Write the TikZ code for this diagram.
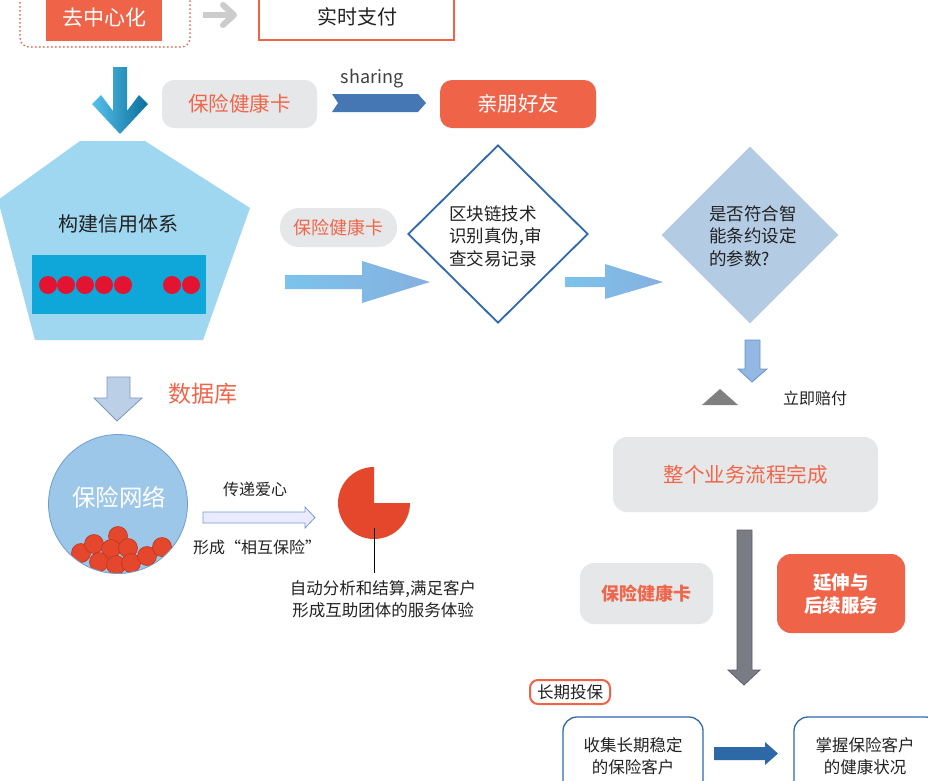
\documentclass[tikz,border=0pt]{standalone}
\usepackage{fontspec}
\setmainfont{Noto Sans CJK SC}
\usetikzlibrary{shapes.geometric}
\definecolor{orgC}{HTML}{EF6348}
\definecolor{orgT}{HTML}{F0664B}
\definecolor{grayB}{HTML}{E6E7E8}
\definecolor{pentC}{HTML}{9ED7EF}
\definecolor{innerC}{HTML}{0FA6DA}
\definecolor{dotR}{HTML}{E31432}
\definecolor{dblue}{HTML}{2F68AC}
\definecolor{dia2C}{HTML}{B4CBE4}
\definecolor{netC}{HTML}{9DC7E8}
\definecolor{netD}{HTML}{6E9ECF}
\definecolor{pieC}{HTML}{E4472B}
\definecolor{ballD}{HTML}{B8371F}
\definecolor{bigG}{HTML}{7A7C85}
\definecolor{bigGD}{HTML}{5E6069}
\definecolor{bblue}{HTML}{2D69A7}
\definecolor{lblue}{HTML}{7BC3EA}
\definecolor{lblueB}{HTML}{86B0E0}
\definecolor{gradL}{HTML}{55C2EA}
\definecolor{gradR}{HTML}{0A6E9C}
\definecolor{txtC}{HTML}{222222}
\newcommand\fsz[2]{\fontsize{#1}{#2}\selectfont}
\tikzset{
  orgbox/.style={fill=orgC, text=white, inner sep=0pt},
  graybox/.style={fill=grayB, text=orgT, rounded corners=12pt, inner sep=0pt},
  txt/.style={inner sep=0pt, text=txtC, align=center},
  wbox/.style={draw=dblue, line width=1.3pt, fill=white, rounded corners=14pt, inner sep=0pt},
  ball/.style={fill=pieC, draw=ballD, line width=0.6pt},
  reddot/.style={fill=dotR},
}
\begin{document}
\begin{tikzpicture}[x=1pt,y=-1pt]
\useasboundingbox (0,0) rectangle (928,780);
\clip (0,0) rectangle (928,780);
\fill[white] (0,0) rectangle (928,780);

% top row
\node[draw=orgC, line width=2pt, dash pattern=on 0pt off 4pt, line cap=round, rounded corners=9pt, minimum width=170pt, minimum height=67pt, inner sep=0pt] (decf) at (105,13.5) {};
\node[orgbox, minimum width=116pt, minimum height=46pt, font=\fsz{21}{25}] (dec) at (104,18) {去中心化};
\draw[color=black!20, line width=6pt] (203,15) -- (232,15);
\draw[color=black!20, line width=6pt, line cap=round, line join=round] (223,5) -- (234,15) -- (223,25);
\node[draw=orgC, line width=1.6pt, fill=white, minimum width=195pt, minimum height=46pt, inner sep=0pt] (pay) at (356.5,17) {};
\node[txt, font=\fsz{20}{24}] (payt) at (357,17) {实时支付};

% blue gradient down arrow
\shade[left color=gradL, right color=gradR] (113,67) -- (127,67) -- (127,111) -- (139,95) -- (148,104) -- (120,134) -- (92,104) -- (101,95) -- (113,111) -- cycle;

\node[graybox, minimum width=155pt, minimum height=48pt, font=\fsz{20.5}{24}] (card1) at (239.5,104) {保险健康卡};
\node[txt, text=black!75, font=\fsz{18}{22}] (shr) at (372,79) {sharing};
\fill[color=dblue!90] (332,94) -- (418,94) -- (426,103) -- (418,112) -- (332,112) -- (338,103) -- cycle;
\node[orgbox, rounded corners=12pt, minimum width=156pt, minimum height=48pt, font=\fsz{20.5}{24}] (friends) at (518,104) {亲朋好友};

% pentagon
\fill[pentC] (-2,200) -- (80,141) -- (145,141) -- (250,208) -- (203,340) -- (35,340) -- cycle;
\node[txt, font=\fsz{20}{24}] (credit) at (118,224) {构建信用体系};
\node[fill=innerC, minimum width=174pt, minimum height=59pt, inner sep=0pt] (bar) at (119,284.5) {};
\foreach \xx in {48,66,85,104,123,172,191} \fill[reddot] (\xx,285) circle (9);

% middle row
\node[graybox, rounded corners=19pt, minimum width=117pt, minimum height=39pt, font=\fsz{18}{22}] (card2) at (338.5,227.5) {保险健康卡};
\shade[left color=lblue, right color=lblueB] (285,275) -- (362,275) -- (362,261) -- (430,282) -- (362,303) -- (362,289) -- (285,289) -- cycle;
\node[diamond, draw=dblue, line width=1.8pt, fill=white, minimum width=180pt, minimum height=178pt, inner sep=0pt] (d1) at (498,234) {};
\node[txt, anchor=west, align=left, font=\fsz{17.5}{22.5}] (d1t) at (449,236) {区块链技术\\识别真伪,审\\查交易记录};
\shade[left color=lblue, right color=lblueB] (565,277) -- (605,277) -- (605,264) -- (663,282) -- (605,299) -- (605,287) -- (565,287) -- cycle;
\node[diamond, fill=dia2C, minimum width=177pt, minimum height=177pt, inner sep=0pt] (d2) at (750,235) {};
\node[txt, anchor=west, align=left, font=\fsz{17.5}{22.5}] (d2t) at (709,236) {是否符合智\\能条约设定\\的参数?};
\filldraw[fill=lblueB!90!white, draw=dblue!70, line width=0.8pt] (745,340) -- (760,340) -- (760,369) -- (767,369) -- (752,382) -- (738,369) -- (745,369) -- cycle;
\fill[black!50] (702,405) -- (738,405) -- (720,389) -- cycle;
\node[txt, font=\fsz{16}{20}] (pay2) at (815,398) {立即赔付};

% database
\filldraw[fill=dia2C!90!white, draw=lblueB!80!black!90, line width=0.8pt] (107,377) -- (130,377) -- (130,398) -- (142,398) -- (117,421) -- (94,398) -- (107,398) -- cycle;
\node[txt, text=orgT, font=\fsz{23}{27}] (db) at (203,394) {数据库};

% network circle
\node[circle, fill=netC, draw=netD, line width=0.8pt, minimum size=139pt, inner sep=0pt] (net) at (118,504) {};
\node[txt, text=white, font=\fsz{23.5}{28}] (nett) at (119,497) {保险网络};
\begin{scope}
\clip (118,504) circle (69);
\foreach \p in {(81,553),(94,544),(118,536),(111,549),(128,548),(99,562),(116,565),(131,563),(147,556),(162,547)}
  \filldraw[ball] \p circle (9.5);
\end{scope}

\filldraw[fill=blue!8!white, draw=lblueB!90!black, line width=0.8pt] (203,512) -- (305,512) -- (305,507) -- (315,517.5) -- (305,528) -- (305,523) -- (203,523) -- cycle;
\node[txt, font=\fsz{16}{20}] (love) at (255,489) {传递爱心};
\node[txt, font=\fsz{16}{20}] (mutual) at (257,547) {形成“相互保险”};

% pie
\coordinate (pc) at (374,503);
\fill[pieC] (pc) -- ++(0,-36) arc[start angle=-90, end angle=-360, radius=36] -- cycle;
\node[txt, font=\fsz{16.5}{22}] (piet) at (383,599) {自动分析和结算,满足客户\\形成互助团体的服务体验};
\draw[black, line width=1pt] (374,528) -- (374,573);

% right column
\node[graybox, rounded corners=14pt, minimum width=265pt, minimum height=75pt, font=\fsz{20.5}{24}] (done) at (745.5,474.5) {整个业务流程完成};
\filldraw[fill=bigG, draw=bigGD, line width=0.8pt] (737,530) -- (752,530) -- (752,670) -- (760,670) -- (744,685) -- (728,670) -- (737,670) -- cycle;
\node[graybox, rounded corners=14pt, minimum width=133pt, minimum height=61pt, font=\bfseries\fsz{18}{22}] (card3) at (646.5,593.5) {保险健康卡};
\node[orgbox, rounded corners=14pt, minimum width=128pt, minimum height=79pt, align=center, font=\bfseries\fsz{18.5}{23}] (ext) at (841,593.5) {延伸与\\后续服务};
\node[draw=orgC, line width=2pt, fill=white, rounded corners=8pt, minimum width=80pt, minimum height=24pt, inner sep=0pt] (long) at (570,692) {};
\node[txt, font=\fsz{16.5}{20}] (longt) at (570,692) {长期投保};

% bottom boxes
\node[wbox, minimum width=140pt, minimum height=83pt] (collect) at (633,758.5) {};
\node[txt, font=\fsz{16.5}{22}] (collectt) at (633,756) {收集长期稳定\\的保险客户};
\fill[bblue] (714,747) -- (765,747) -- (765,742) -- (778,753.5) -- (765,765) -- (765,760) -- (714,760) -- cycle;
\node[wbox, minimum width=146pt, minimum height=83pt] (health) at (867,758.5) {};
\node[txt, font=\fsz{16.5}{22}] (healtht) at (865,756) {掌握保险客户\\的健康状况};
\end{tikzpicture}
\end{document}
